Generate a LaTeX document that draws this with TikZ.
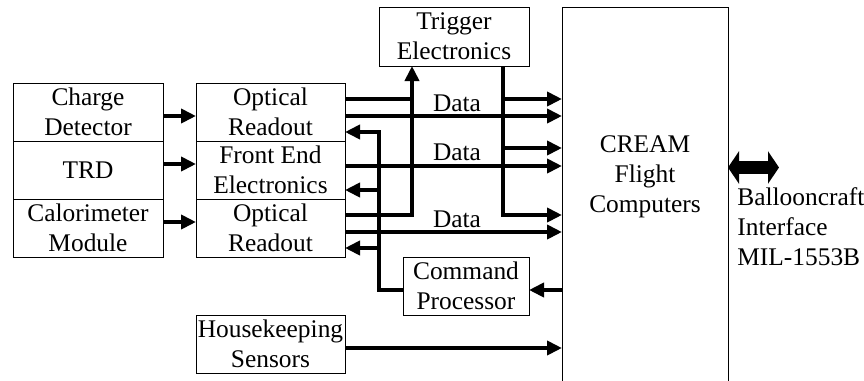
\documentclass[tikz,border=0pt]{standalone}
\usepackage{fontspec}
\setmainfont{Liberation Serif}
\usetikzlibrary{arrows.meta}
\begin{document}
\begin{tikzpicture}[x=0.5pt,y=-0.5pt,
  font=\fontsize{12.7}{15}\selectfont,
  box/.style={draw, line width=0.5pt, inner sep=0pt, outer sep=0pt, align=center, minimum width=75pt, minimum height=29pt},
  midbox/.style={box, minimum width=74.5pt},
  flow/.style={line width=2pt, -{Triangle[length=7.5pt,width=7pt]}},
  wire/.style={line width=2pt},
  lbl/.style={inner sep=0pt}]
\useasboundingbox (0,0) rectangle (864,381);
% left column
\node[box] (charge) at (88,112) {Charge\\Detector};
\node[box] (trd) at (88,170) {TRD};
\node[box] (calo) at (88,228) {Calorimeter\\Module};
% second column
\node[midbox] (or1) at (270.5,112) {Optical\\Readout};
\node[midbox] (fe) at (270.5,170) {Front End\\Electronics};
\node[midbox] (or3) at (270.5,228) {Optical\\Readout};
\node[midbox] (house) at (270.5,344) {Housekeeping\\Sensors};
% trigger and command
\node[box, minimum height=29.5pt] (trig) at (454,36.5) {Trigger\\Electronics};
\node[box, minimum width=63pt] (cmd) at (466,286) {Command\\Processor};
% CREAM
\begin{scope}
\clip (0,0) rectangle (864,381);
\node[draw, line width=0.5pt, inner sep=0pt, outer sep=0pt, minimum width=83pt, minimum height=200pt, anchor=north] (cream) at (645,7) {};
\end{scope}
\node[lbl, align=center] (creamlabel) at (645,177) {CREAM\\Flight\\Computers};
% coordinates on buses
\coordinate (tin) at (412,66);
\coordinate (tout) at (503,66);
\coordinate (cbus) at (379,290);
\coordinate (bif) at (779,167.5);
% detector to readout
\draw[flow] (charge.east |- 0,116) -- (or1.west |- 0,116);
\draw[flow] (trd.east |- 0,164) -- (fe.west |- 0,164);
\draw[flow] (calo.east |- 0,222) -- (or3.west |- 0,222);
% trigger inputs
\draw[wire] (or1.east |- 0,99) -- (tin |- 0,99);
\draw[flow] (or3.east |- 0,215) -| (tin);
% trigger outputs
\draw[flow] (tout) |- (cream.west |- 0,215);
\draw[flow] (tout |- 0,99) -- (cream.west |- 0,99);
\draw[flow] (tout |- 0,148) -- (cream.west |- 0,148);
% data lines
\draw[flow] (or1.east |- 0,116) -- (cream.west |- 0,116);
\draw[flow] (fe.east |- 0,166) -- (cream.west |- 0,166);
\draw[flow] (or3.east |- 0,232) -- (cream.west |- 0,232);
\node[lbl] (d1) at (457,103) {Data};
\node[lbl] (d2) at (457,152) {Data};
\node[lbl] (d3) at (457,219) {Data};
% command bus
\draw[flow] (cream.west |- 0,290) -- (cmd.east |- 0,290);
\draw[flow] (cmd.west |- 0,290) -- (cbus) |- (or1.east |- 0,132);
\draw[flow] (cbus |- 0,190) -- (fe.east |- 0,190);
\draw[flow] (cbus |- 0,248) -- (or3.east |- 0,248);
% housekeeping
\draw[flow] (house.east |- 0,348) -- (cream.west |- 0,348);
% balloon interface
\draw[line width=6.5pt, {Triangle[length=5.5pt,width=16pt]}-{Triangle[length=5.5pt,width=16pt]}] (cream.east |- bif) -- (bif);
\node[lbl, align=left, anchor=west] (balloon) at (737,227) {Ballooncraft\\Interface\\MIL-1553B};
\end{tikzpicture}
\end{document}
